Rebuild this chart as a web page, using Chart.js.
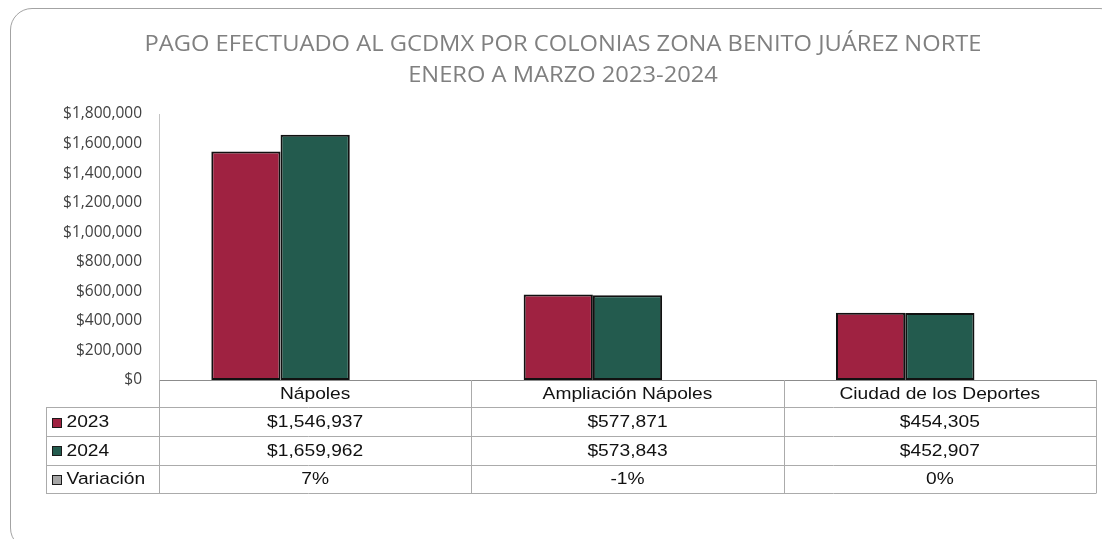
<!DOCTYPE html>
<html>
<head>
<meta charset="utf-8">
<script src="https://cdn.jsdelivr.net/npm/chart.js@4.4.1/dist/chart.umd.min.js"></script>
<style>
  html, body { margin: 0; padding: 0; background: #ffffff; }
  #wrap { position: relative; width: 1102px; height: 539px; overflow: hidden; background: #fff; }
  #frame { position: absolute; left: 10px; top: 8px; width: 1112px; height: 542px; box-sizing: border-box;
           border: 1.5px solid #a3a3a3; border-radius: 22px; }
  #c { position: absolute; left: 0; top: 0; }
</style>
</head>
<body>
<div id="wrap">
  <div id="frame"></div>
  <canvas id="c" width="1102" height="539"></canvas>
</div>
<script>
// ---- data ----
const titleLines = ['PAGO EFECTUADO AL GCDMX POR COLONIAS ZONA BENITO JUÁREZ NORTE', 'ENERO A MARZO 2023-2024'];
const categories = ['Nápoles', 'Ampliación Nápoles', 'Ciudad de los Deportes'];
const seriesNames = ['2023', '2024', 'Variación'];
const values2023 = [1546937, 577871, 454305];
const values2024 = [1659962, 573843, 452907];
const variacion = [0.07, -0.01, 0.00];
const yMin = 0, yMax = 1800000, yStep = 200000;

const COL_2023 = '#9f2241';
const COL_2024 = '#235b4e';
const COL_VAR = '#a6a6a6';

const fmtMoney = v => '$' + Math.round(v).toLocaleString('en-US');
const fmtPct = v => Math.round(v * 100) + '%';

const tableRows = [
  { name: seriesNames[0], color: COL_2023, cells: values2023.map(fmtMoney) },
  { name: seriesNames[1], color: COL_2024, cells: values2024.map(fmtMoney) },
  { name: seriesNames[2], color: COL_VAR, cells: variacion.map(fmtPct) }
];

function stretchText(ctx, text, x, y, sx, align) {
  ctx.save();
  ctx.translate(x, y);
  ctx.scale(sx, 1);
  ctx.textAlign = align;
  ctx.fillText(text, 0, 0);
  ctx.restore();
}

const titlePlugin = {
  id: 'titleDraw',
  afterDraw(chart) {
    const ctx = chart.ctx;
    ctx.save();
    ctx.font = '21.5px "Open Sans"';
    ctx.fillStyle = '#808080';
    ctx.textBaseline = 'alphabetic';
    const w = ctx.measureText(titleLines[0]).width;
    const sx = 837 / w;
    stretchText(ctx, titleLines[0], 563, 50.5, sx, 'center');
    stretchText(ctx, titleLines[1], 563, 82, sx, 'center');
    ctx.restore();
  }
};

const tablePlugin = {
  id: 'dataTable',
  afterDraw(chart) {
    const ctx = chart.ctx;
    const xs = chart.scales.x;
    const area = chart.chartArea;
    const left0 = 46;
    const colW = (area.right - area.left) / categories.length;
    const top = area.bottom;
    const rowY = [top, top + 27.3, top + 56, top + 84.6, top + 113.2];
    const px = v => Math.round(v) + 0.5;
    ctx.save();
    ctx.strokeStyle = '#ababab';
    ctx.lineWidth = 1;
    ctx.beginPath();
    for (let r = 1; r < rowY.length; r++) {
      ctx.moveTo(left0, px(rowY[r]));
      ctx.lineTo(area.right, px(rowY[r]));
    }
    ctx.moveTo(left0 + 0.5, px(rowY[1]));
    ctx.lineTo(left0 + 0.5, px(rowY[4]));
    ctx.moveTo(px(area.left), top);
    ctx.lineTo(px(area.left), px(rowY[4]));
    for (let i = 0; i < categories.length; i++) {
      const xr = xs.getPixelForValue(i) + colW / 2;
      ctx.moveTo(px(xr), top);
      ctx.lineTo(px(xr), px(rowY[4]));
    }
    ctx.stroke();

    const sx = 1.18;
    ctx.font = '16.3px "Liberation Sans"';
    ctx.fillStyle = '#111111';
    ctx.textBaseline = 'middle';
    categories.forEach((c, i) => {
      stretchText(ctx, c, xs.getPixelForValue(i), (rowY[0] + rowY[1]) / 2 + 1, sx, 'center');
    });
    tableRows.forEach((row, r) => {
      const yc = (rowY[r + 1] + rowY[r + 2]) / 2 + 1;
      ctx.fillStyle = row.color;
      ctx.fillRect(52, Math.round(yc - 5), 10, 10);
      ctx.strokeStyle = '#1a1a1a';
      ctx.strokeRect(52.5, Math.round(yc - 5) + 0.5, 9, 9);
      ctx.fillStyle = '#111111';
      stretchText(ctx, row.name, 66.5, yc, sx, 'left');
      row.cells.forEach((cell, i) => {
        stretchText(ctx, cell, xs.getPixelForValue(i), yc, sx, 'center');
      });
    });
    ctx.restore();
  }
};

new Chart(document.getElementById('c'), {
  type: 'bar',
  data: {
    labels: categories,
    datasets: [
      { label: seriesNames[0], data: values2023, backgroundColor: COL_2023, borderColor: '#111111', borderWidth: 2, borderSkipped: false },
      { label: seriesNames[1], data: values2024, backgroundColor: COL_2024, borderColor: '#111111', borderWidth: 2, borderSkipped: false },
      { label: seriesNames[2], data: variacion, backgroundColor: 'rgba(0,0,0,0)', borderWidth: 0 }
    ]
  },
  options: {
    responsive: false,
    animation: false,
    devicePixelRatio: 1,
    categoryPercentage: 0.665,
    barPercentage: 1,
    layout: { padding: { left: 10, right: 6, top: 114, bottom: 0 } },
    plugins: { legend: { display: false }, title: { display: false }, tooltip: { enabled: false } },
    scales: {
      x: {
        grid: { display: false, drawTicks: false },
        border: { display: true, color: '#8c8c8c', width: 1 },
        ticks: { display: false },
        afterFit(s) { s.height = 159; }
      },
      y: {
        min: yMin, max: yMax,
        grid: { display: false, drawTicks: false },
        border: { display: true, color: '#c4c4c4', width: 1 },
        ticks: {
          stepSize: yStep,
          padding: 17,
          color: '#404040',
          font: { family: '"Open Sans"', size: 15.5 },
          callback: v => fmtMoney(v)
        },
        afterFit(s) { s.width = 149; }
      }
    }
  },
  plugins: [titlePlugin, tablePlugin]
});
</script>
</body>
</html>
